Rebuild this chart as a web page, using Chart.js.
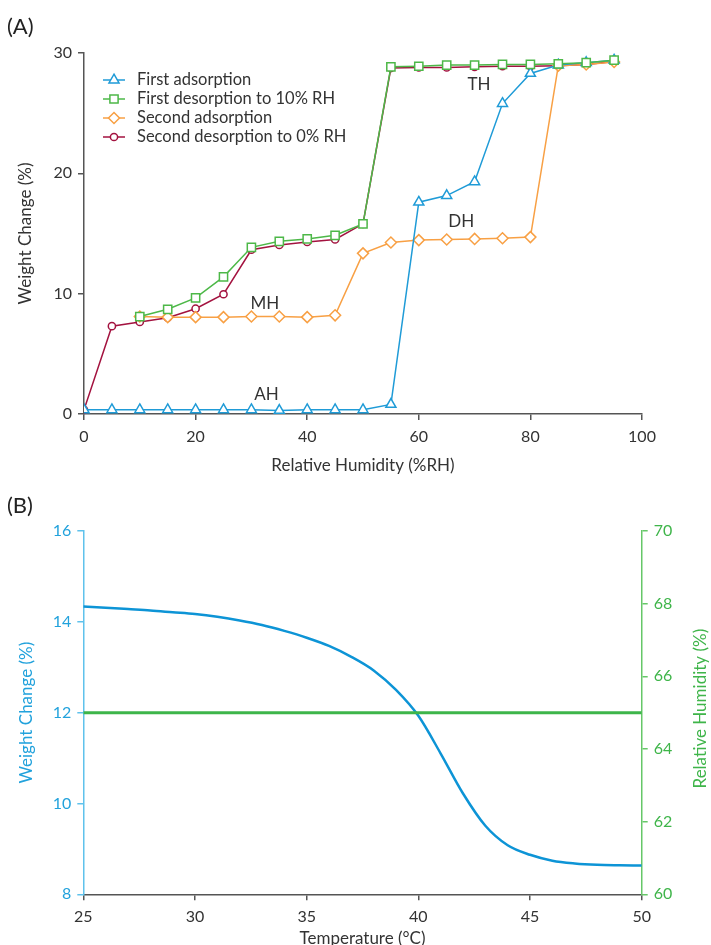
<!DOCTYPE html>
<html><head><meta charset="utf-8">
<script src="https://cdn.jsdelivr.net/npm/chart.js@4.4.1/dist/chart.umd.min.js"></script>
<style>
html,body{margin:0;padding:0;background:#fff;}
body{width:711px;height:945px;position:relative;overflow:hidden;font-family:Lato, sans-serif}
#ca{position:absolute;left:0;top:0}
#cb{position:absolute;left:0;top:480px}
.panel{position:absolute;left:7px;font-size:22px;line-height:26px;color:#222}
</style></head>
<body>
<canvas id="ca" width="711" height="480"></canvas>
<canvas id="cb" width="711" height="465"></canvas>
<div class="panel" style="top:13px">(A)</div>
<div class="panel" style="top:492px">(B)</div>
<script>
// ---------- Panel A data ----------
const firstAdsRH = [0,5,10,15,20,25,30,35,40,45,50,55,60,65,70,75,80,85,90,95];
const firstAdsW  = [0.35,0.35,0.35,0.35,0.35,0.35,0.35,0.3,0.35,0.35,0.35,0.8,17.6,18.15,19.3,25.8,28.3,29.0,29.2,29.4];
const firstDesRH = [95,90,85,80,75,70,65,60,55,50,45,40,35,30,25,20,15,10];
const firstDesW  = [29.4,29.2,29.1,29.05,29.05,29.0,29.0,28.9,28.85,15.8,14.85,14.55,14.35,13.85,11.4,9.65,8.7,8.1];
const secondAdsRH = [10,15,20,25,30,35,40,45,50,55,60,65,70,75,80,85,90,95];
const secondAdsW  = [8.1,8.05,8.05,8.05,8.1,8.1,8.05,8.2,13.35,14.25,14.45,14.5,14.55,14.6,14.7,28.95,29.05,29.25];
const secondDesRH = [95,90,85,80,75,70,65,60,55,50,45,40,35,30,25,20,15,10,5,0];
const secondDesW  = [29.3,29.05,28.95,28.9,28.9,28.85,28.8,28.8,28.75,15.8,14.5,14.3,14.05,13.65,9.95,8.75,8.0,7.65,7.3,0.35];
const seriesNames = ['First adsorption','First desorption to 10% RH','Second adsorption','Second desorption to 0% RH'];
const xTicksA = [0,20,40,60,80,100];
const yTicksA = [0,10,20,30];
const annotLabels = ['TH','DH','MH','AH'];
const annotRH = [70.8,67.6,32.4,32.7];
const annotW  = [27.4,16.0,9.2,1.6];

// ---------- Panel B data ----------
const tempC  = [25,26,27,28,29,30,31,32,33,34,35,36,37,38,39,40,41,42,43,44,45,46,47,48,49,50];
const weightB= [14.34,14.31,14.28,14.25,14.21,14.17,14.11,14.03,13.93,13.8,13.65,13.47,13.23,12.93,12.5,11.93,11.1,10.22,9.51,9.08,8.87,8.74,8.68,8.65,8.64,8.635];
const rhTemp = [25,50];
const rhValue= [65,65];
const xTicksB = [25,30,35,40,45,50];
const yTicksB = [8,10,12,14,16];
const y2TicksB = [60,62,64,66,68,70];

const FONT = 'Lato, sans-serif';
const TICK = 16, TITLE = 17;
const C = {blue:'#1f9bd7', green:'#4db848', orange:'#f8a044', red:'#a3123f', axis:'#555555', text:'#333333'};
const pts = (xs, ys) => xs.map((x,i)=>({x, y: ys[i]}));

function drawMarker(ctx, style, r, x, y, color){
  ctx.save();
  ctx.beginPath();
  if(style==='triangle'){
    ctx.moveTo(x, y - r);
    ctx.lineTo(x + r*Math.sin(2*Math.PI/3), y - r*Math.cos(2*Math.PI/3));
    ctx.lineTo(x + r*Math.sin(4*Math.PI/3), y - r*Math.cos(4*Math.PI/3));
    ctx.closePath();
  } else if(style==='rect'){
    const s = Math.SQRT1_2*r; ctx.rect(x-s,y-s,2*s,2*s);
  } else if(style==='rectRot'){
    ctx.moveTo(x, y-r); ctx.lineTo(x+r,y); ctx.lineTo(x,y+r); ctx.lineTo(x-r,y); ctx.closePath();
  } else {
    ctx.arc(x,y,r,0,Math.PI*2);
  }
  ctx.fillStyle='#fff'; ctx.fill();
  ctx.lineWidth=1.5; ctx.strokeStyle=color; ctx.stroke();
  ctx.restore();
}

const seriesStyle = [
  {color:C.blue, style:'triangle', r:5.8},
  {color:C.green, style:'rect', r:5.8},
  {color:C.orange, style:'rectRot', r:5.5},
  {color:C.red, style:'circle', r:3.6}
];

function ds(label, data, i, order){
  const s = seriesStyle[i];
  return {label, data, borderColor:s.color, backgroundColor:'#fff', borderWidth:1.5,
    pointStyle:s.style, pointRadius:s.r, pointBorderWidth:1.5, pointBackgroundColor:'#fff',
    pointBorderColor:s.color, tension:0, order};
}

const legendAndNotes = {
  id:'legendAndNotes',
  afterDatasetsDraw(chart){
    const ctx = chart.ctx, a = chart.chartArea;
    ctx.save();
    ctx.font = '16.5px ' + FONT; ctx.fillStyle = C.text; ctx.textBaseline='middle';
    for(let i=0;i<4;i++){
      const y = a.top + 27 + i*19;
      const s = seriesStyle[i];
      ctx.beginPath(); ctx.moveTo(a.left+19,y); ctx.lineTo(a.left+41,y);
      ctx.strokeStyle=s.color; ctx.lineWidth=1.5; ctx.stroke();
      drawMarker(ctx, s.style, s.r, a.left+30, y, s.color);
      ctx.fillStyle=C.text; ctx.textAlign='left';
      ctx.fillText(seriesNames[i], a.left+53, y);
    }
    const xs = chart.scales.x, ys = chart.scales.y;
    ctx.font = '17px ' + FONT;
    ctx.textAlign='center';
    for(let i=0;i<annotLabels.length;i++){
      ctx.fillText(annotLabels[i], xs.getPixelForValue(annotRH[i]), ys.getPixelForValue(annotW[i]));
    }
    ctx.restore();
  }
};

new Chart(document.getElementById('ca'), {
  type:'line',
  data:{datasets:[
    ds(seriesNames[0], pts(firstAdsRH, firstAdsW), 0, 1),
    ds(seriesNames[1], pts(firstDesRH, firstDesW), 1, 0),
    ds(seriesNames[2], pts(secondAdsRH, secondAdsW), 2, 2),
    ds(seriesNames[3], pts(secondDesRH, secondDesW), 3, 3)
  ]},
  options:{
    responsive:false, animation:false, devicePixelRatio:1,
    layout:{padding:{left:0, top:53, right:69, bottom:0}},
    plugins:{legend:{display:false}, tooltip:{enabled:false}},
    scales:{
      x:{type:'linear', min:0, max:100,
        afterBuildTicks(s){ s.ticks = xTicksA.map(v=>({value:v})); },
        afterFit(s){ s.height = 66; },
        ticks:{font:{family:FONT,size:TICK}, color:C.text, padding:7, maxRotation:0},
        grid:{drawOnChartArea:false, drawTicks:true, tickLength:6, color:C.axis, lineWidth:1.5},
        border:{color:C.axis, width:1.5},
        title:{display:true, text:'Relative Humidity (%RH)', font:{family:FONT,size:TITLE}, color:C.text, padding:{top:0,bottom:4.5}}
      },
      y:{type:'linear', min:0, max:30,
        afterBuildTicks(s){ s.ticks = yTicksA.map(v=>({value:v})); },
        afterFit(s){ s.width = 84; },
        ticks:{font:{family:FONT,size:TICK}, color:C.text, padding:6},
        grid:{drawOnChartArea:false, drawTicks:true, tickLength:6, color:C.axis, lineWidth:1.5},
        border:{color:C.axis, width:1.5},
        title:{display:true, text:'Weight Change (%)', font:{family:FONT,size:TITLE}, color:C.text, padding:{top:15,bottom:0}}
      }
    }
  },
  plugins:[legendAndNotes]
});

// ---------- Panel B ----------
const BC = {line:'#0d94d6', lAxis:'#5fc2ec', lText:'#22a2dc', rLine:'#3db54a', rAxis:'#66c768', rText:'#3fb54a'};
const rightTitle = {
  id:'rightTitle',
  afterDraw(chart){
    const ctx = chart.ctx, a = chart.chartArea;
    ctx.save();
    ctx.translate(701, (a.top+a.bottom)/2 - 4);
    ctx.rotate(-Math.PI/2);
    ctx.font=TITLE+'px '+FONT; ctx.fillStyle=BC.rText; ctx.textAlign='center'; ctx.textBaseline='middle';
    ctx.fillText('Relative Humidity (%)',0,0);
    ctx.restore();
  }
};

new Chart(document.getElementById('cb'), {
  type:'line',
  data:{datasets:[
    {label:'Relative Humidity', data:pts(rhTemp, rhValue), yAxisID:'y2', borderColor:BC.rLine, borderWidth:3, pointRadius:0, tension:0},
    {label:'Weight Change', data:pts(tempC, weightB), yAxisID:'y', borderColor:BC.line, borderWidth:2.5, pointRadius:0, cubicInterpolationMode:'monotone'}
  ]},
  options:{
    responsive:false, animation:false, devicePixelRatio:1,
    layout:{padding:{left:0, top:51, right:0, bottom:0}},
    plugins:{legend:{display:false}, tooltip:{enabled:false}},
    scales:{
      x:{type:'linear', min:25, max:50,
        afterBuildTicks(s){ s.ticks = xTicksB.map(v=>({value:v})); },
        afterFit(s){ s.height = 50.7; },
        ticks:{font:{family:FONT,size:TICK}, color:C.text, padding:7, maxRotation:0},
        grid:{drawOnChartArea:false, drawTicks:true, tickLength:6, color:C.axis, lineWidth:1.5},
        border:{color:C.axis, width:1.5},
        title:{display:true, text:'Temperature (°C)', font:{family:FONT,size:TITLE}, color:C.text, padding:{top:0,bottom:-4}}
      },
      y:{type:'linear', position:'left', min:8, max:16,
        afterBuildTicks(s){ s.ticks = yTicksB.map(v=>({value:v})); },
        afterFit(s){ s.width = 83.3; },
        ticks:{font:{family:FONT,size:TICK}, color:BC.lText, padding:6},
        grid:{drawOnChartArea:false, drawTicks:true, tickLength:6, color:BC.lAxis, lineWidth:1.5},
        border:{color:BC.lAxis, width:1.5},
        title:{display:true, text:'Weight Change (%)', font:{family:FONT,size:TITLE}, color:BC.lText, padding:{top:16.5,bottom:0}}
      },
      y2:{type:'linear', position:'right', min:60, max:70,
        afterBuildTicks(s){ s.ticks = y2TicksB.map(v=>({value:v})); },
        afterFit(s){ s.width = 69.3; },
        ticks:{font:{family:FONT,size:TICK}, color:BC.rText, padding:6},
        grid:{drawOnChartArea:false, drawTicks:true, tickLength:6, color:BC.rAxis, lineWidth:1.5},
        border:{color:BC.rAxis, width:1.5}
      }
    }
  },
  plugins:[rightTitle]
});
</script>
</body></html>
